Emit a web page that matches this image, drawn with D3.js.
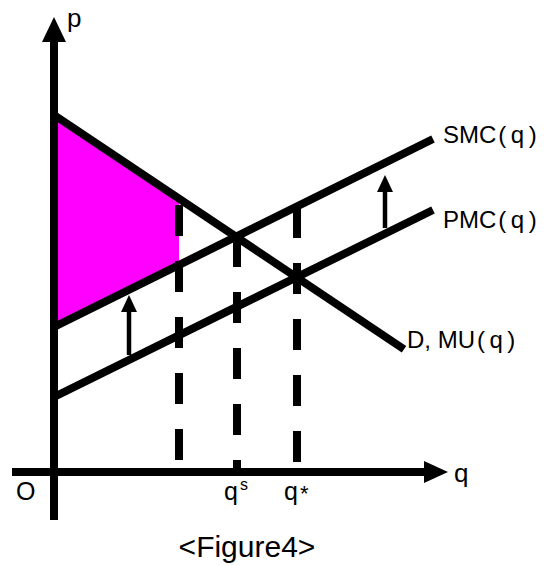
<!DOCTYPE html>
<html>
<head>
<meta charset="utf-8">
<script src="https://cdn.jsdelivr.net/npm/d3@7"></script>
<style>
    html, body { margin: 0; padding: 0; background: #fff; }
    svg { display: block; }
    text { font-family: "Liberation Sans", Arial, sans-serif; fill: #000; }
</style>
</head>
<body>
<div id="chart"></div>
<script>
(function () {
    "use strict";

    // curves as [q, p] end points
    const demand = [[0, 8.925], [8.75, 3.07]];
    const smc = [[0, 3.625], [9.475, 8.325]];
    const pmc = [[0, 1.875], [9.475, 6.55]];

    // axis extents in data units
    const qExtent = [-1.05, 9.85];
    const pExtent = [-1.2, 11.375];

    // vertical dashed drop lines: q and top p
    const dropQ = [3.125, 4.575, 6.075];
    const dropTop = [6.675, 5.9, 6.625];

    // shifting arrows from PMC up to SMC
    const arrowQ = [1.875, 8.275];
    const arrowFrom = [2.925, 6.1];
    const arrowTo = [4.425, 7.425];

    // shaded area runs from q = 0 to the first drop line
    const shadeTo = dropQ[0];

    const curveLabels = ["SMC(q)", "PMC(q)", "D, MU(q)"];
    const qTickLabels = [{ q: dropQ[1], base: "q", sup: "s" }, { q: dropQ[2], base: "q", sup: "*" }];

    const width = 559;
    const height = 566;

    const x = d3.scaleLinear().domain([0, 10]).range([54, 454]);
    const y = d3.scaleLinear().domain([0, 10]).range([472, 72]);

    const svg = d3.select("#chart").append("svg")
        .attr("width", width)
        .attr("height", height);

    const line = d3.line()
        .x(d => x(d[0]))
        .y(d => y(d[1]));

    function valueAt(curve, q) {
        const [a, b] = curve;
        return a[1] + (b[1] - a[1]) * (q - a[0]) / (b[0] - a[0]);
    }

    // shaded surplus area between D and SMC
    const shade = [
        [0, valueAt(demand, 0)],
        [shadeTo, valueAt(demand, shadeTo)],
        [shadeTo, valueAt(smc, shadeTo)],
        [0, valueAt(smc, 0)]
    ];
    svg.append("path")
        .attr("d", line(shade) + "Z")
        .attr("fill", "#ff00ff");

    // dashed drop lines
    svg.selectAll("line.drop")
        .data(dropQ)
        .join("line")
        .attr("class", "drop")
        .attr("x1", d => x(d))
        .attr("x2", d => x(d))
        .attr("y1", (d, i) => y(dropTop[i]))
        .attr("y2", y(0) - 2)
        .attr("stroke", "#000")
        .attr("stroke-width", 8)
        .attr("stroke-dasharray", "31,25");

    // curves
    for (const curve of [demand, smc, pmc]) {
        svg.append("path")
            .attr("d", line(curve))
            .attr("fill", "none")
            .attr("stroke", "#000")
            .attr("stroke-width", 8)
            .attr("stroke-linecap", "butt");
    }

    // small arrows
    arrowQ.forEach((q, i) => {
        const ax = x(q);
        const tip = y(arrowTo[i]);
        svg.append("line")
            .attr("x1", ax).attr("x2", ax)
            .attr("y1", y(arrowFrom[i]))
            .attr("y2", tip + 12)
            .attr("stroke", "#000")
            .attr("stroke-width", 4.5);
        svg.append("path")
            .attr("d", `M${ax},${tip}L${ax + 8},${tip + 17}L${ax - 8},${tip + 17}Z`)
            .attr("fill", "#000");
    });

    // axes
    const x0 = x(0);
    const y0 = y(0);
    const pTop = y(pExtent[1]);
    const qRight = x(qExtent[1]);

    svg.append("line")
        .attr("x1", x0).attr("x2", x0)
        .attr("y1", y(pExtent[0]))
        .attr("y2", pTop + 20)
        .attr("stroke", "#000")
        .attr("stroke-width", 8);
    svg.append("path")
        .attr("d", `M${x0},${pTop}L${x0 + 12},${pTop + 25}L${x0 - 12},${pTop + 25}Z`)
        .attr("fill", "#000");

    svg.append("line")
        .attr("x1", x(qExtent[0])).attr("x2", qRight - 20)
        .attr("y1", y0).attr("y2", y0)
        .attr("stroke", "#000")
        .attr("stroke-width", 8);
    svg.append("path")
        .attr("d", `M${qRight},${y0}L${qRight - 24},${y0 - 11}L${qRight - 24},${y0 + 11}Z`)
        .attr("fill", "#000");

    // axis labels
    svg.append("text")
        .attr("x", x0 + 13)
        .attr("y", pTop + 10)
        .attr("font-size", 26)
        .text("p");

    svg.append("text")
        .attr("x", qRight + 6)
        .attr("y", y0 + 10)
        .attr("font-size", 26)
        .text("q");

    svg.append("text")
        .attr("x", x0 - 38)
        .attr("y", y0 + 28)
        .attr("font-size", 25)
        .text("O");

    // q tick labels
    qTickLabels.forEach(t => {
        const tx = svg.append("text")
            .attr("x", x(t.q) - 13)
            .attr("y", y0 + 28)
            .attr("font-size", 25);
        tx.append("tspan").text(t.base);
        tx.append("tspan")
            .attr("dx", 2)
            .attr("dy", t.sup === "s" ? -10 : 1)
            .attr("font-size", t.sup === "s" ? 16 : 22)
            .text(t.sup);
    });

    // curve labels
    const labelEnds = [smc[1], pmc[1], demand[1]];
    const labelOffsets = [[10, 4], [10, 18], [3, -1]];
    curveLabels.forEach((label, i) => {
        const end = labelEnds[i];
        const m = label.indexOf("(");
        const t = svg.append("text")
            .attr("x", x(end[0]) + labelOffsets[i][0])
            .attr("y", y(end[1]) + labelOffsets[i][1])
            .attr("font-size", 24);
        t.append("tspan").text(label.slice(0, m));
        t.append("tspan")
            .attr("dx", 2)
            .attr("letter-spacing", 4.5)
            .text(label.slice(m));
    });

    // caption
    svg.append("text")
        .attr("x", 247)
        .attr("y", 557)
        .attr("text-anchor", "middle")
        .attr("font-family", "'Open Sans', 'Noto Sans', sans-serif")
        .attr("font-size", 30)
        .text("<Figure4>");
}());
</script>
</body>
</html>
